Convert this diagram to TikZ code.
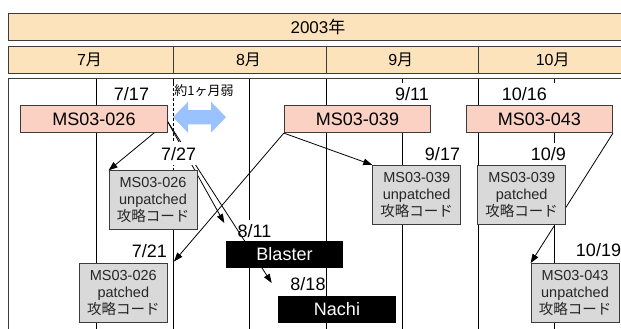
\documentclass[tikz,border=0pt]{standalone}
\usepackage{fontspec}
\setmainfont{Liberation Sans}
\newfontfamily\jp{Noto Sans CJK JP}
\usetikzlibrary{arrows.meta,calc}
\definecolor{barfill}{RGB}{252,227,188}
\definecolor{pinkfill}{RGB}{251,209,196}
\definecolor{grayfill}{RGB}{217,217,217}
\definecolor{bluearrow}{RGB}{153,194,255}
\definecolor{edge}{RGB}{60,60,60}
\pgfdeclarelayer{grid}
\pgfdeclarelayer{labels}
\pgfdeclarelayer{links}
\pgfsetlayers{grid,labels,links,main}
\begin{document}
\begin{tikzpicture}[x=1pt,y=-1pt,
  bar/.style={draw=edge, line width=0.8pt, fill=barfill},
  barlbl/.style={inner sep=0, font=\fontsize{16}{18}\selectfont},
  vline/.style={line width=0.9pt, black},
  msbox/.style={draw=edge, line width=0.8pt, fill=pinkfill, minimum width=146.6, minimum height=27, inner sep=0, font=\fontsize{18}{20}\selectfont},
  codebox/.style={draw=edge, line width=0.8pt, fill=grayfill, text=black!85, minimum width=88, minimum height=59, inner sep=0, align=center, font=\fontsize{14.5}{17.2}\selectfont},
  wormbox/.style={fill=black, text=white, minimum width=117.5, minimum height=27, inner sep=0, font=\fontsize{18}{20}\selectfont},
  datelbl/.style={fill=white, inner xsep=1, inner ysep=4.5, anchor=base, font=\fontsize{18}{20}\selectfont},
  link/.style={line width=0.8pt, -{Triangle[length=9pt,width=6.5pt]}},
]
\useasboundingbox (0,0) rectangle (621,329);
\clip (0,0) rectangle (621,329);

% header bars
\draw[bar] (8.7,13.3) rectangle (640,40.7);
\node[barlbl, font=\fontsize{17}{19}\selectfont] (year) at (318,27) {2003{\jp 年}};
\draw[bar] (8.7,46) rectangle (640,73.3);
\draw[edge, line width=0.8pt] (173,46) -- (173,73.3) (326,46) -- (326,73.3) (478,46) -- (478,73.3);
\node[barlbl] (m7) at (89.5,59.7) {7{\jp 月}};
\node[barlbl] (m8) at (248.5,59.7) {8{\jp 月}};
\node[barlbl] (m9) at (400.7,59.7) {9{\jp 月}};
\node[barlbl] (m10) at (552.7,59.7) {10{\jp 月}};

\begin{pgfonlayer}{grid}
\draw[edge, line width=0.9pt] (8.7,340) -- (8.7,78.7) -- (640,78.7);
\foreach \x in {96.7,249,326,402,478,554} \draw[vline] (\x,78.7) -- (\x,340);
\draw[vline] (173,78.7) -- (173,83.3);
\draw[vline, line width=0.7pt, dash pattern=on 3pt off 2pt] (173,83.3) -- (173,170);
\draw[vline] (173,170) -- (173,340);
\end{pgfonlayer}

\begin{pgfonlayer}{labels}
\node[datelbl] (d717) at (131.5,100.7) {7/17};
\node[datelbl] (d911) at (412,100.7) {9/11};
\node[datelbl, anchor=base west, text width=52, align=left, inner xsep=2] (d1016) at (499.7,100.7) {10/16};
\node[datelbl] (d917) at (442.5,160.7) {9/17};
\node[datelbl] (d109) at (548.3,160.7) {10/9};
\node[datelbl] (d811) at (254.5,237.3) {8/11};
\node[datelbl] (d721) at (149.3,257.3) {7/21};
\node[datelbl] (d1019) at (598.5,256) {10/19};
\node[datelbl, inner xsep=0.3] (d818) at (308,290) {8/18};
\end{pgfonlayer}

% period arrow
\fill[bluearrow] (173,117.2) -- (188,101.7) -- (188,110) -- (211,110) -- (211,101.7) -- (226,117.2) -- (211,132.7) -- (211,124.4) -- (188,124.4) -- (188,132.7) -- cycle;
\node[inner sep=0, anchor=base, font=\jp\fontsize{13}{15}\selectfont] (about) at (204,95.5) {約1ヶ月弱};

% bulletins
\node[msbox] (m26) at (94,119.2) {MS03-026};
\node[msbox] (m39) at (357.5,119.2) {MS03-039};
\node[msbox] (m43) at (539.3,119.2) {MS03-043};

% exploit codes
\node[codebox] (u26) at (153,200.3) {MS03-026\\unpatched\\{\jp 攻略コード}};
\node[codebox] (p26) at (123.3,293) {MS03-026\\patched\\{\jp 攻略コード}};
\node[codebox] (u39) at (416.7,194.8) {MS03-039\\unpatched\\{\jp 攻略コード}};
\node[codebox] (p39) at (521.7,194.8) {MS03-039\\patched\\{\jp 攻略コード}};
\node[codebox] (u43) at (575,293) {MS03-043\\unpatched\\{\jp 攻略コード}};

% worms
\node[wormbox] (blaster) at (284.5,254.5) {Blaster};
\node[wormbox] (nachi) at (337,309) {Nachi};

\node[datelbl] (d727) at (178.7,160) {7/27};

\coordinate (s26) at ($(m26.east)+(0,2.5)$);
\coordinate (blasttip) at (224.3,223);
\coordinate (nachitip) at (271.7,283);
\coordinate (t721) at (174,261.5);

\begin{pgfonlayer}{links}
\draw[link] (s26) -- (u26.north west);
\draw[link] (s26) -- (blasttip);
\draw[link] (s26) -- (nachitip);
\draw[link] (m39.south west) -- (t721);
\draw[link] (m39.south west) -- (u39.north west);
\draw[link] (m43.south east) -- (u43.north west);
\end{pgfonlayer}
\end{tikzpicture}
\end{document}
